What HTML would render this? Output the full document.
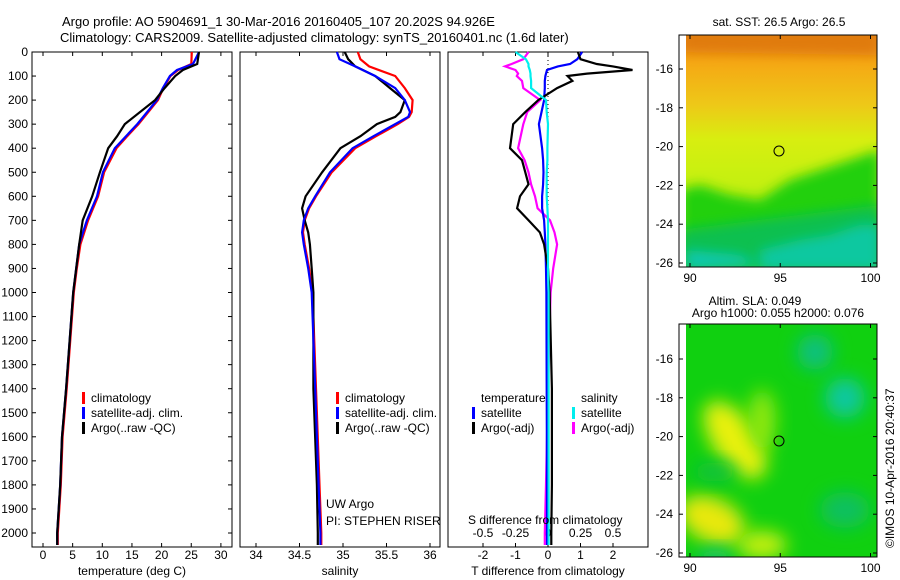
<!DOCTYPE html>
<html><head><meta charset="utf-8">
<style>
body{margin:0;background:#fff;}
svg{display:block;font-family:"Liberation Sans",sans-serif;}
text{font-size:12px;fill:#000;}
</style></head><body>
<svg id="c" width="900" height="580" viewBox="0 0 900 580">
<defs>
<filter id="bl" x="-60%" y="-60%" width="220%" height="220%"><feGaussianBlur stdDeviation="6"/></filter>
<filter id="bl2" x="-60%" y="-60%" width="220%" height="220%"><feGaussianBlur stdDeviation="9"/></filter>
<linearGradient id="sstg" x1="0" y1="0" x2="0" y2="1">
<stop offset="0" stop-color="#e88a10"/><stop offset="0.12" stop-color="#f5a814"/><stop offset="0.3" stop-color="#eec818"/><stop offset="0.45" stop-color="#d8ee10"/><stop offset="0.6" stop-color="#c8f010"/><stop offset="1" stop-color="#a8ea10"/>
</linearGradient>
<clipPath id="m1"><rect x="686" y="35" width="191" height="232"/></clipPath>
<clipPath id="m2"><rect x="686" y="324" width="191" height="233"/></clipPath>
</defs>
<text x="62" y="26" style="font-size:13px">Argo profile: AO 5904691_1 30-Mar-2016 20160405_107 20.202S 94.926E</text>
<text x="60" y="42" style="font-size:13px">Climatology: CARS2009. Satellite-adjusted climatology: synTS_20160401.nc (1.6d later)</text>

<g>
<g clip-path="url(#m1)">
<rect x="686" y="35" width="191" height="232" fill="url(#sstg)"/>
<path d="M680 190 L700 185 L730 195 L760 200 L790 180 L820 170 L850 160 L880 150 L880 270 L680 270Z" fill="#22d010" filter="url(#bl)"/>
<path d="M680 230 L720 225 L760 220 L800 215 L840 210 L880 205 L880 270 L680 270Z" fill="#10c050" filter="url(#bl)"/>
<path d="M760 250 L800 240 L830 235 L860 225 L880 225 L880 270 L760 270Z" fill="#10c8a0" filter="url(#bl)"/>
<path d="M686 250 L740 255 L760 265 L686 270Z" fill="#10c8b0" filter="url(#bl)"/>
<path d="M680 30 L880 30 L880 55 L680 52Z" fill="#e07a10" filter="url(#bl)"/>
</g>
<rect x="679" y="35" width="198" height="232" fill="none" stroke="#000"/>
<circle cx="779" cy="151" r="5" fill="none" stroke="#000"/>
<text x="779" y="26" text-anchor="middle">sat. SST: 26.5  Argo: 26.5</text>
</g>

<g>
<g clip-path="url(#m2)">
<rect x="686" y="324" width="191" height="233" fill="#10d010"/>
<ellipse cx="735" cy="440" rx="22" ry="45" transform="rotate(-35 735 440)" fill="#e8f010" filter="url(#bl2)"/>
<ellipse cx="712" cy="520" rx="35" ry="22" transform="rotate(25 712 520)" fill="#e8e810" filter="url(#bl2)"/>
<ellipse cx="762" cy="545" rx="25" ry="14" fill="#c8f010" filter="url(#bl2)"/>
<ellipse cx="762" cy="420" rx="14" ry="30" fill="#90e810" filter="url(#bl2)"/>
<ellipse cx="815" cy="352" rx="18" ry="18" fill="#10c080" filter="url(#bl2)"/>
<ellipse cx="845" cy="398" rx="20" ry="20" fill="#10c8a0" filter="url(#bl2)"/>
<ellipse cx="845" cy="510" rx="25" ry="18" fill="#10c060" filter="url(#bl2)"/>
<ellipse cx="715" cy="472" rx="22" ry="10" fill="#10c040" filter="url(#bl2)"/>
<ellipse cx="715" cy="557" rx="18" ry="8" fill="#10c080" filter="url(#bl2)"/>
</g>
<rect x="679" y="324" width="198" height="233" fill="none" stroke="#000"/>
<circle cx="779" cy="441" r="5" fill="none" stroke="#000"/>
<text x="755" y="305" text-anchor="middle">Altim. SLA: 0.049</text>
<text x="778" y="317" text-anchor="middle">Argo h1000: 0.055 h2000: 0.076</text>
<text transform="translate(894 548) rotate(-90)">©IMOS 10-Apr-2016 20:40:37</text>
</g>
<g id="plots"></g>
</svg>
<script>
// ---- data ----
const depthT = [0,50,75,100,150,200,300,350,400,500,600,700,800,900,1000,1400,1600,1800,2000,2050];
const tempArgo = [26.3,26.0,23.6,22.3,20.5,18.9,13.8,12.5,11.0,9.6,8.3,6.7,6.1,5.6,5.1,3.9,3.2,2.9,2.4,2.4];
const tempSat = [26.3,25.3,22.6,21.4,20.2,19.2,15.9,14.0,12.1,10.1,9.1,7.4,6.1,5.6,5.1,3.9,3.2,2.9,2.4,2.4];
const tempClim = [25.1,25.0,22.8,21.5,20.3,19.4,16.1,14.2,12.4,10.3,9.3,7.6,6.3,5.7,5.2,4.0,3.3,3.0,2.5,2.5];
const depthS = [0,30,60,100,150,200,250,270,300,350,400,500,600,650,700,750,800,900,1000,1400,1800,2000,2050];
const salArgo = [35.02,35.06,35.14,35.37,35.54,35.71,35.66,35.6,35.39,35.2,34.97,34.76,34.57,34.53,34.56,34.6,34.62,34.64,34.66,34.66,34.7,34.71,34.71];
const salSat = [34.93,34.96,35.14,35.37,35.6,35.71,35.77,35.75,35.6,35.35,35.11,34.85,34.68,34.6,34.55,34.53,34.55,34.6,34.64,34.68,34.72,34.74,34.74];
const salClim = [35.17,35.2,35.3,35.6,35.71,35.8,35.79,35.76,35.63,35.38,35.14,34.87,34.69,34.61,34.56,34.54,34.56,34.61,34.65,34.69,34.73,34.75,34.75];
const depthD = [0,30,50,60,75,90,100,120,150,200,250,300,400,450,500,550,600,650,700,750,800,900,1000,1400,1800,2000,2050];
const dTArgo = [0.92,1.0,1.5,2.0,2.6,1.2,0.6,0.75,0.28,-0.3,-0.7,-1.07,-1.17,-0.8,-0.7,-0.6,-0.86,-0.95,-0.6,-0.25,-0.12,0.0,0.05,0.12,0.12,0.1,0.1];
const dTSat = [1.05,0.9,0.68,0.3,-0.03,-0.06,-0.08,-0.1,-0.1,-0.12,-0.2,-0.28,-0.18,-0.15,-0.14,-0.15,-0.18,-0.18,-0.12,-0.1,-0.08,-0.06,-0.05,-0.04,-0.03,-0.03,-0.03];
const dSArgo = [-0.15,-0.19,-0.28,-0.33,-0.25,-0.23,-0.24,-0.2,-0.19,-0.06,-0.16,-0.19,-0.23,-0.18,-0.15,-0.13,-0.1,-0.08,0.015,0.05,0.07,0.04,0.02,0.0,-0.015,-0.025,-0.025];
const dSSat = [-0.25,-0.17,-0.15,-0.15,-0.14,-0.135,-0.135,-0.13,-0.13,-0.015,-0.01,0.0,-0.005,-0.005,-0.01,-0.01,-0.01,-0.005,0.0,0.0,0.0,0.0,0.005,0.005,0.005,0.005,0.005];
const depthTicks = [0,100,200,300,400,500,600,700,800,900,1000,1100,1200,1300,1400,1500,1600,1700,1800,1900,2000];
const tempTicks = [0,5,10,15,20,25,30];
const salTicks = [34,34.5,35,35.5,36];
const dTTicks = [-2,-1,0,1,2];
const dSTicks = [-0.5,-0.25,0,0.25,0.5];
const latTicks = [-16,-18,-20,-22,-24,-26];
const lonTicks = [90,95,100];

const NS="http://www.w3.org/2000/svg";
const root=document.getElementById('plots');
function mk(tag,attrs,parent){const e=document.createElementNS(NS,tag);for(const k in attrs)e.setAttribute(k,attrs[k]);(parent||root).appendChild(e);return e;}
const yD = d => 52 + d*0.2405;
const xT = t => 43 + t*5.93;
const xS = s => 256 + (s-34)*87;
const xDT = v => 548 + v*32.5;
const xDS = v => 548 + v*130;
const xLon = l => 690 + (l-90)*18.05;
const yLat1 = l => 69 + (-16-l)*19.4;
const yLat2 = l => 359 + (-16-l)*19.4;

function frame(x0,x1,name){
  const r=mk('rect',{x:x0,y:52,width:x1-x0,height:495,fill:'none',stroke:'#000'});
  
  
}
frame(32,232,'temperature-panel');frame(240,440,'salinity-panel');frame(448,648,'difference-panel');

function line(xs,ds,xf,color,name){
  const p=ds.map((d,i)=>xf(xs[i]).toFixed(1)+','+yD(d).toFixed(1)).join(' ');
  const e=mk('polyline',{points:p,fill:'none',stroke:color,'stroke-width':2.2});
  
  
}
function txt(x,y,s,name,anchor){const t=mk('text',{x:x,y:y,'text-anchor':anchor||'start'});t.textContent=s;
  
  return t;}

depthTicks.forEach(d=>{
  const y=yD(d);
  mk('line',{x1:32,x2:36,y1:y,y2:y,stroke:'#000'});
  mk('line',{x1:228,x2:232,y1:y,y2:y,stroke:'#000'});
  txt(28,y+4,d,'depth-tick-label','end');
});
function xticks(vals,f,name){
  vals.forEach(v=>{const x=f(v);
    mk('line',{x1:x,x2:x,y1:547,y2:543,stroke:'#000'});
    mk('line',{x1:x,x2:x,y1:52,y2:56,stroke:'#000'});
    txt(x,559,v,name,'middle');
  });
}
xticks(tempTicks,xT,'temperature-tick-label');
xticks(salTicks,xS,'salinity-tick-label');
xticks(dTTicks,xDT,'t-diff-tick-label');
dSTicks.forEach(v=>{txt(xDS(v),537,v,'s-diff-tick-label','middle');});
mk('line',{x1:548,x2:548,y1:52,y2:547,stroke:'#000','stroke-dasharray':'1,3'});

line(tempClim,depthT,xT,'#f00','temp-climatology-line');
line(tempSat,depthT,xT,'#00f','temp-satellite-line');
line(tempArgo,depthT,xT,'#000','temp-argo-line');
line(salClim,depthS,xS,'#f00','sal-climatology-line');
line(salArgo,depthS,xS,'#000','sal-argo-line');
line(salSat,depthS,xS,'#00f','sal-satellite-line');
line(dSArgo,depthD,xDS,'#f0f','s-diff-argo-line');
line(dTSat,depthD,xDT,'#00f','t-diff-satellite-line');
line(dTArgo,depthD,xDT,'#000','t-diff-argo-line');
line(dSSat,depthD,xDS,'#0ee','s-diff-satellite-line');

function legItem(x,y,color,label,name){mk('rect',{x:x,y:y-10,width:3,height:12,fill:color});txt(x+9,y,label,name);}
legItem(82,402,'#f00','climatology','temp-legend-climatology');
legItem(82,417,'#00f','satellite-adj. clim.','temp-legend-satellite');
legItem(82,432,'#000','Argo(..raw -QC)','temp-legend-argo');
legItem(336,402,'#f00','climatology','sal-legend-climatology');
legItem(336,417,'#00f','satellite-adj. clim.','sal-legend-satellite');
legItem(336,432,'#000','Argo(..raw -QC)','sal-legend-argo');
txt(481,402,'temperature','diff-legend-temperature-header');
txt(581,402,'salinity','diff-legend-salinity-header');
legItem(472,417,'#00f','satellite','diff-legend-t-satellite');
legItem(472,432,'#000','Argo(-adj)','diff-legend-t-argo');
legItem(572,417,'#0ee','satellite','diff-legend-s-satellite');
legItem(572,432,'#f0f','Argo(-adj)','diff-legend-s-argo');
txt(326,508,'UW Argo','pi-institution');
txt(326,525,'PI: STEPHEN RISER','pi-name');
txt(468,524,'S difference from climatology','s-diff-axis-title');
txt(132,575,'temperature (deg C)','temperature-axis-title','middle');
txt(340,575,'salinity','salinity-axis-title','middle');
txt(548,575,'T difference from climatology','t-diff-axis-title','middle');

function mapAxes(yf,y0,y1,pre){
  latTicks.forEach(l=>{const y=yf(l);
    mk('line',{x1:679,x2:683,y1:y,y2:y,stroke:'#000'});
    mk('line',{x1:873,x2:877,y1:y,y2:y,stroke:'#000'});
    txt(673,y+4,l,pre+'-lat-tick-label','end');
  });
  lonTicks.forEach(l=>{const x=xLon(l);
    mk('line',{x1:x,x2:x,y1:y0,y2:y0+4,stroke:'#000'});
    mk('line',{x1:x,x2:x,y1:y1,y2:y1-4,stroke:'#000'});
    txt(x,y1+15,l,pre+'-lon-tick-label','middle');
  });
}
mapAxes(yLat1,35,267,'sst');
mapAxes(yLat2,324,557,'sla');
</script>
</body></html>
